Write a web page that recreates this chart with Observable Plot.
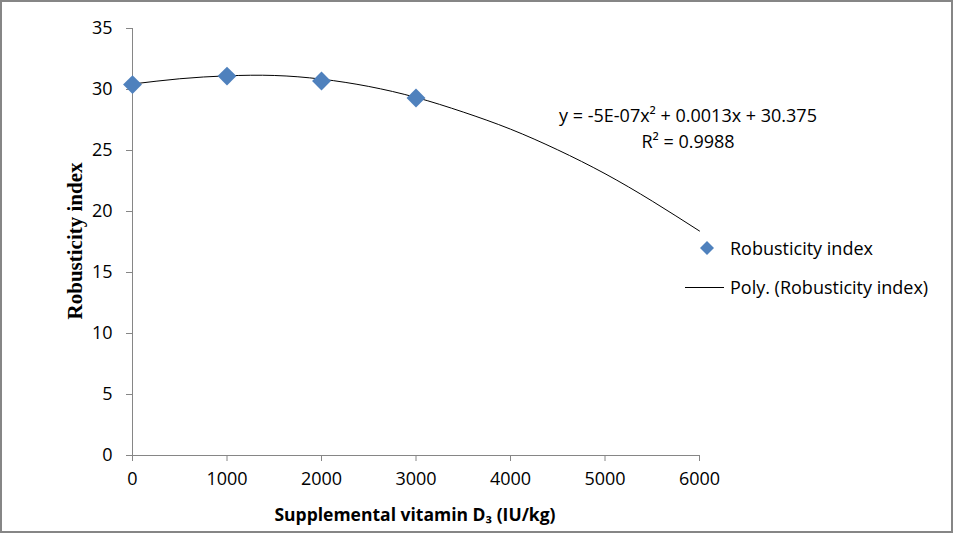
<!DOCTYPE html>
<html>
<head>
<meta charset="utf-8">
<script src="https://cdn.jsdelivr.net/npm/d3@7"></script>
<script src="https://cdn.jsdelivr.net/npm/@observablehq/plot@0.6"></script>
<style>
  html, body { margin: 0; padding: 0; background: #fff; }
  #wrap { position: relative; width: 955px; height: 535px; overflow: hidden; background: #fff; }
  #frame { position: absolute; left: 0; top: 0; width: 949px; height: 529px; border: 2px solid #868686; pointer-events: none; }
  .t { position: absolute; font-family: "Open Sans", sans-serif; font-size: 18px; color: #000; white-space: nowrap; line-height: 1; }
</style>
</head>
<body>
<div id="wrap">
  <div id="chart"></div>
  <div class="t" id="ylab" style="font-family:'Liberation Serif','Times New Roman',serif;font-weight:bold;font-size:21px;left:75px;top:241px;transform:translate(-50%,-50%) rotate(-90deg);">Robusticity index</div>
  <div class="t" id="xlab" style="font-weight:bold;font-size:17.5px;left:415px;top:515px;transform:translate(-50%,-50%);">Supplemental vitamin D₃ (IU/kg)</div>
  <div class="t" id="eq1" style="left:688px;top:115px;transform:translate(-50%,-50%);">y = -5E-07x² + 0.0013x + 30.375</div>
  <div class="t" id="eq2" style="left:688px;top:141px;transform:translate(-50%,-50%);">R² = 0.9988</div>
  <div class="t" style="left:700px;top:241px;"><svg width="14" height="14" style="display:block"><polygon points="7,0 14,7 7,14 0,7" fill="#4F81BD"/></svg></div>
  <div class="t" id="leg1" style="left:730px;top:248px;transform:translateY(-50%);">Robusticity index</div>
  <div class="t" style="left:685px;top:287px;width:39px;height:1px;background:#000;"></div>
  <div class="t" id="leg2" style="left:730px;top:287px;transform:translateY(-50%);">Poly. (Robusticity index)</div>
  <div id="frame"></div>
</div>
<script>
// Observed data points
const doses = [0, 1000, 2000, 3000];
const robusticity = [30.4, 31.1, 30.7, 29.3];

// Trend line (polynomial fit)
const trendX = [0, 500, 1000, 1500, 2000, 2500, 3000, 3500, 4000, 4500, 5000, 5500, 6000];
const trendY = [30.45, 30.88, 31.12, 31.15, 30.85, 30.25, 29.35, 28.15, 26.75, 25.05, 23.1, 20.85, 18.4];

// Axis ticks
const xTicks = [0, 1000, 2000, 3000, 4000, 5000, 6000];
const yTicks = [0, 5, 10, 15, 20, 25, 30, 35];

const points = doses.map((d, i) => ({x: d, y: robusticity[i]}));
const trend = trendX.map((d, i) => ({x: d, y: trendY[i]}));

const chart = Plot.plot({
  width: 955,
  height: 535,
  marginLeft: 132,
  marginRight: 256,
  marginTop: 28,
  marginBottom: 80,
  style: {fontFamily: "'Open Sans', sans-serif", fontSize: "18px", color: "#000", background: "transparent", overflow: "visible"},
  x: {domain: [0, 6000], ticks: xTicks, tickFormat: d => String(d)},
  y: {domain: [0, 35], ticks: yTicks},
  marks: [
    Plot.axisX({ticks: xTicks, tickFormat: d => String(d), tickSize: 6, tickPadding: 11, stroke: "#868686", fill: "#000", label: null}),
    Plot.axisY({ticks: yTicks, tickSize: 6, tickPadding: 14, stroke: "#868686", fill: "#000", label: null}),
    Plot.ruleX([0], {y1: 0, y2: 35, stroke: "#868686"}),
    Plot.ruleY([0], {x1: 0, x2: 6000, stroke: "#868686"}),
    Plot.line(trend, {x: "x", y: "y", curve: "natural", stroke: "#000", strokeWidth: 1}),
    Plot.dot(points, {x: "x", y: "y", symbol: "diamond2", r: 8.5, fill: "#4F81BD", stroke: "none"})
  ]
});
chart.style.position = "absolute";
chart.style.left = "0";
chart.style.top = "0";
document.getElementById("chart").appendChild(chart);
</script>
</body>
</html>
